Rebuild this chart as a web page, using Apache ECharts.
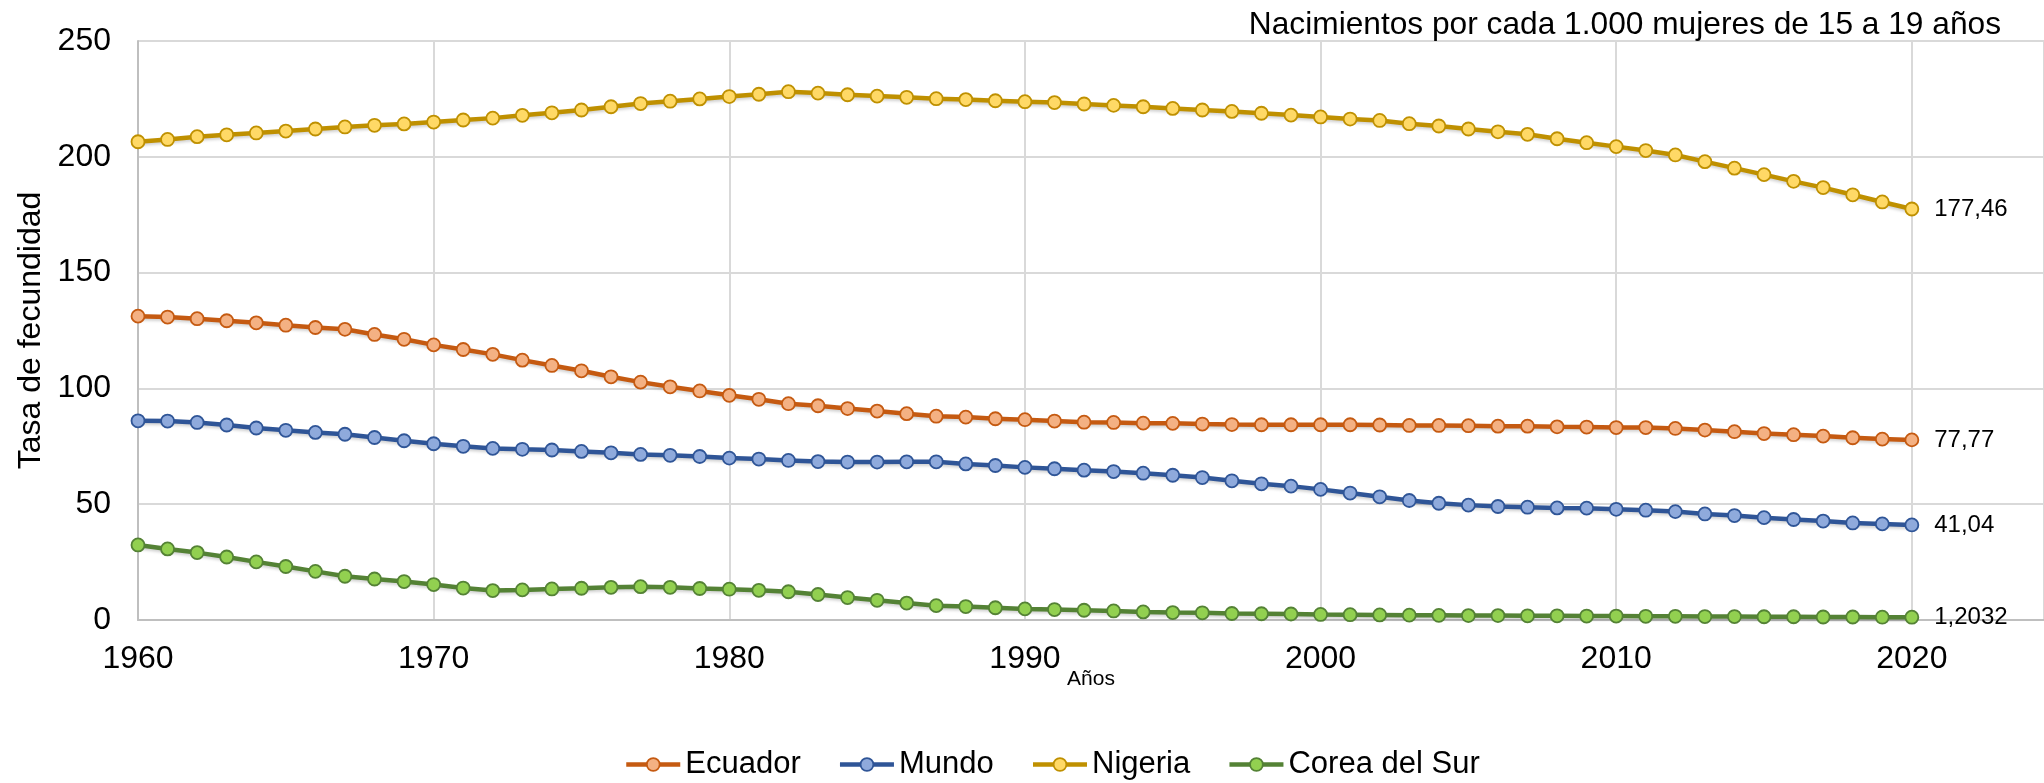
<!DOCTYPE html>
<html>
<head>
<meta charset="utf-8">
<script src="https://cdn.jsdelivr.net/npm/echarts@6/dist/echarts.min.js"></script>
<style>
html,body{margin:0;padding:0;background:#fff;}
#chart{width:2044px;height:783px;}
</style>
</head>
<body>
<div id="chart"></div>
<script>
const years = [];
for (let y = 1960; y <= 2020; y++) years.push(y);

const ecuador = [131.2,130.8,130.1,129.2,128.3,127.3,126.3,125.5,123.3,121.2,
  118.8,116.8,114.7,112.2,109.9,107.6,105.0,102.7,100.7,98.9,
  97.0,95.3,93.4,92.5,91.3,90.2,89.1,88.0,87.6,86.9,
  86.5,85.9,85.4,85.3,85.0,84.9,84.6,84.4,84.3,84.3,
  84.3,84.3,84.2,84.0,84.0,83.9,83.7,83.7,83.4,83.3,
  83.1,83.1,82.7,82.0,81.3,80.5,80.0,79.4,78.7,78.1,
  77.77];
const mundo = [86.0,85.9,85.3,84.2,82.9,81.9,81.0,80.2,78.8,77.4,
  76.1,75.0,74.1,73.7,73.4,72.8,72.2,71.5,71.1,70.6,
  69.9,69.5,68.9,68.4,68.2,68.2,68.3,68.3,67.4,66.7,
  65.9,65.3,64.7,64.1,63.4,62.5,61.5,60.1,58.8,57.8,
  56.4,54.8,53.2,51.6,50.4,49.6,49.0,48.7,48.4,48.3,
  47.8,47.4,46.8,45.8,45.1,44.2,43.4,42.7,41.9,41.5,
  41.04];
const nigeria = [206.5,207.5,208.7,209.5,210.3,211.1,212.0,212.9,213.6,214.2,
  215.0,215.9,216.7,217.9,219.0,220.2,221.6,223.0,224.0,225.0,
  226.0,227.0,228.1,227.5,226.8,226.2,225.7,225.1,224.7,224.2,
  223.8,223.4,222.8,222.2,221.6,220.9,220.2,219.6,218.8,218.0,
  217.2,216.3,215.7,214.3,213.3,212.0,210.8,209.7,207.8,206.1,
  204.4,202.7,200.8,197.9,195.1,192.3,189.4,186.7,183.6,180.5,
  177.46];
const corea = [32.4,30.7,29.1,27.2,25.1,23.1,21.0,18.9,17.7,16.6,
  15.3,13.8,12.7,13.0,13.4,13.7,14.1,14.4,14.1,13.6,
  13.3,12.8,12.2,11.0,9.7,8.5,7.3,6.2,5.8,5.3,
  4.8,4.5,4.2,3.9,3.5,3.2,3.1,2.8,2.7,2.6,
  2.4,2.3,2.2,2.1,2.0,1.9,1.9,1.8,1.8,1.7,
  1.7,1.6,1.6,1.5,1.5,1.4,1.4,1.3,1.3,1.2,
  1.2032];
const lastLabels = ['77,77','41,04','177,46','1,2032'];

const seriesNames = ['Ecuador','Mundo','Nigeria','Corea del Sur'];
const lineColors = ['#C55A11','#2F5597','#BF9000','#548235'];
const fillColors = ['#F4B183','#8FAADC','#FFD966','#92D050'];
const allData = [ecuador, mundo, nigeria, corea];

const FONT = '"Liberation Sans", Arial, sans-serif';

const chart = echarts.init(document.getElementById('chart'), null, {renderer:'canvas'});

const series = allData.map((arr, si) => ({
  name: seriesNames[si],
  type: 'line',
  symbol: 'circle',
  symbolSize: 13,
  z: 2,
  lineStyle: {color: lineColors[si], width: 4.5, shadowColor:'rgba(0,0,0,0.18)', shadowBlur:3, shadowOffsetY:2},
  itemStyle: {color: fillColors[si], borderColor: lineColors[si], borderWidth: 1.8},
  emphasis: {disabled: true},
  animation: false,
  data: arr.map((v, i) => {
    if (i === arr.length - 1) {
      return {
        value: [years[i], v],
        label: {
          show: true, position: 'right', distance: 15,
          formatter: lastLabels[si],
          color: '#000', fontSize: 24, fontFamily: FONT
        }
      };
    }
    return [years[i], v];
  })
}));

chart.setOption({
  backgroundColor: '#fff',
  animation: false,
  title: {
    text: 'Nacimientos por cada 1.000 mujeres de 15 a 19 años',
    right: 38, top: 4,
    textStyle: {fontFamily: FONT, fontSize: 31.7, fontWeight: 'normal', color: '#000'}
  },
  legend: {
    data: seriesNames,
    left: 624, top: 749, padding: 0,
    itemWidth: 54, itemHeight: 16, itemGap: 37,
    lineStyle: {width: 4.5, shadowBlur: 0, shadowOffsetY: 0},
    itemStyle: {borderWidth: 1.8},
    textStyle: {fontFamily: FONT, fontSize: 31, color: '#000', padding:[0,0,0,0]},
  },
  grid: {left: 138, right: 0, top: 41, bottom: 163, containLabel: false},
  xAxis: {
    type: 'value',
    min: 1960, max: 2024.47, interval: 10,
    name: 'Años', nameLocation: 'middle', nameGap: 49, nameMoveOverlap: false,
    nameTextStyle: {fontFamily: FONT, fontSize: 21, color: '#000'},
    axisLine: {show: true, lineStyle: {color: '#BFBFBF', width: 2}},
    axisTick: {show: false},
    axisLabel: {
      fontFamily: FONT, fontSize: 32, color: '#000', margin: 23,
      showMaxLabel: false,
      formatter: v => (v % 10 === 0 ? String(v) : '')
    },
    splitLine: {show: true, lineStyle: {color: '#D9D9D9', width: 2}}
  },
  yAxis: {
    type: 'value', min: 0, max: 250, interval: 50,
    name: 'Tasa de fecundidad', nameLocation: 'middle', nameGap: 91, nameMoveOverlap: false,
    nameTextStyle: {fontFamily: FONT, fontSize: 32, color: '#000'},
    axisLine: {show: true, lineStyle: {color: '#BFBFBF', width: 2}},
    axisTick: {show: false},
    axisLabel: {fontFamily: FONT, fontSize: 32, color: '#000', margin: 27},
    splitLine: {show: true, lineStyle: {color: '#D9D9D9', width: 2}}
  },
  series: series
});
</script>
</body>
</html>
